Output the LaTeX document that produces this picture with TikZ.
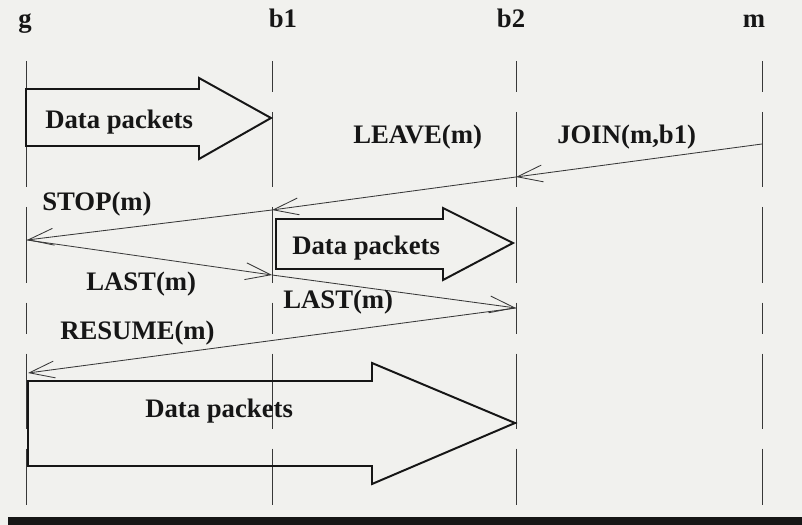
\documentclass[tikz,border=0pt]{standalone}
\usepackage{fontspec}
\setmainfont{Liberation Serif}
\usetikzlibrary{arrows.meta,positioning}
\definecolor{seqPaper}{HTML}{F1F1EE}
\definecolor{seqInk}{HTML}{161616}
\definecolor{seqLine}{HTML}{383838}

\begin{document}
\begin{tikzpicture}[
  x=0.025cm, y=-0.025cm,
  font=\fontsize{19}{22}\selectfont\bfseries,
  lifeline/.style={seqLine, line width=0.6pt, dash pattern=on 22pt off 14.2pt on 53.3pt off 14.2pt on 54pt off 14.2pt},
  msg/.style={seqLine, line width=0.6pt, -{Straight Barb[length=18pt, width=12pt]}},
  packets/.style={draw=seqInk, line width=1.4pt, line join=miter},
  lbl/.style={inner sep=0pt, text=seqInk, anchor=base west}
]

% Paper and bottom bar
\fill[seqPaper] (0,0) rectangle (802,525);
\useasboundingbox (0,0) rectangle (802,525);
\fill[seqInk] (8,517) rectangle (802,525);

% Entities
\node[lbl, anchor=base] (g) at (25,28) {g};
\node[lbl, anchor=base] (b1) at (283,28) {b1};
\node[lbl, anchor=base] (b2) at (511,28) {b2};
\node[lbl, anchor=base] (m) at (754,28) {m};

% Lifelines
\coordinate (g-top) at (26,61);   \coordinate (g-bot) at (26,505);
\coordinate (b1-top) at (272,61); \coordinate (b1-bot) at (272,505);
\coordinate (b2-top) at (516,61); \coordinate (b2-bot) at (516,505);
\coordinate (m-top) at (762,61);  \coordinate (m-bot) at (762,505);
\draw[lifeline] (g-top) -- (g-bot);
\draw[lifeline] (b1-top) -- (b1-bot);
\draw[lifeline] (b2-top) -- (b2-bot);
\draw[lifeline] (m-top) -- (m-bot);

% Data packets g -> b1
\draw[packets] (26,89) -- (199,89) -- (199,78) -- (271,118) -- (199,159) -- (199,146) -- (26,146) -- cycle;
\node[lbl] (data1) at (45,129) {Data packets};

% Messages
\coordinate (join-m) at (762,144);
\coordinate (join-b2) at (516,177);
\coordinate (leave-b1) at (272,210);
\coordinate (stop-g) at (27,240);
\coordinate (last-b1) at (272,275);
\coordinate (last-b2) at (516,308);
\coordinate (resume-g) at (28,373);
\draw[msg] (join-m) -- (join-b2);
\draw[msg] (join-b2) -- (leave-b1);
\draw[msg] (leave-b1) -- (stop-g);
\draw[msg] (stop-g) -- (last-b1);
\draw[msg] (last-b1) -- (last-b2);
\draw[msg] (last-b2) -- (resume-g);
\node[lbl] (join) at (557,144) {JOIN(m,b1)};
\node[lbl] (leave) at (353,144) {LEAVE(m)};
\node[lbl] (stop) at (42,211) {STOP(m)};
\node[lbl] (last1) at (86,290) {LAST(m)};
\node[lbl] (last2) at (283,308) {LAST(m)};
\node[lbl] (resume) at (60,339) {RESUME(m)};

% Data packets b1 -> b2
\draw[packets] (276,219) -- (443,219) -- (443,208) -- (513,243) -- (443,280) -- (443,269) -- (276,269) -- cycle;
\node[lbl] (data2) at (292,254) {Data packets};

% Data packets g -> b2
\draw[packets] (28,381) -- (372,381) -- (372,363) -- (515,423) -- (372,484) -- (372,466) -- (28,466) -- cycle;
\node[lbl] (data3) at (145,417) {Data packets};

\end{tikzpicture}
\end{document}
